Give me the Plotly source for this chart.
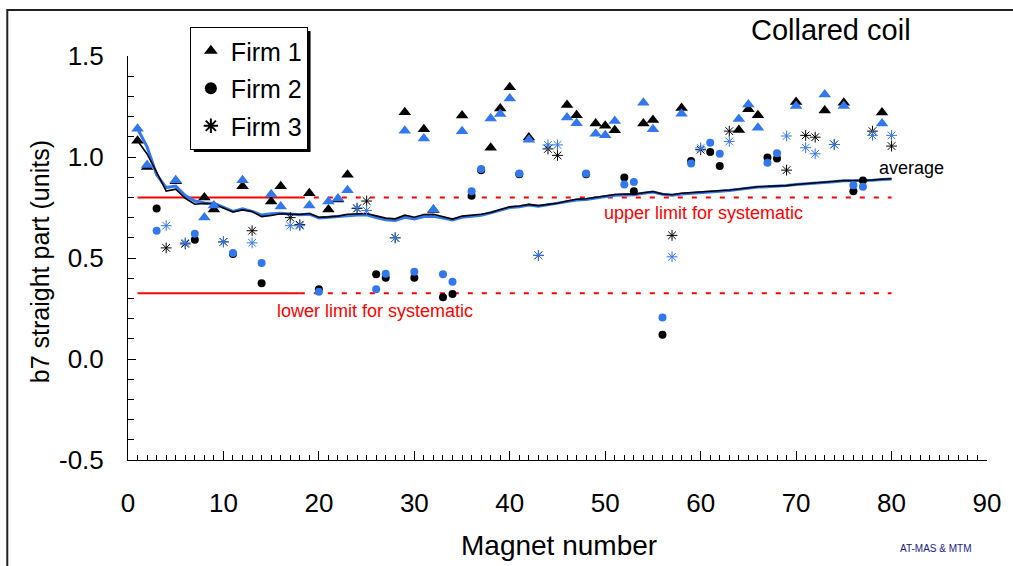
import plotly.graph_objects as go
import numpy as np

# ---------------- data ----------------
magnet = list(range(1, 81))
firm = [1, 1, 2, 3, 1, 3, 2, 1, 1, 3,
        2, 1, 3, 2, 1, 1, 3, 3, 1, 2,
        1, 1, 1, 3, 3, 2, 2, 3, 1, 2,
        1, 1, 2, 2, 1, 2, 2, 1, 1, 1,
        2, 1, 3, 3, 3, 1, 1, 2, 1, 1,
        1, 2, 2, 1, 1, 2, 3, 1, 2, 3,
        2, 2, 3, 1, 1, 1, 2, 2, 3, 1,
        3, 3, 1, 3, 1, 2, 2, 3, 1, 3]
b7_black = [1.08, 0.95, 0.745, 0.55, 0.88, 0.57, 0.59, 0.80, 0.74, 0.58,
            0.52, 0.855, 0.635, 0.375, 0.78, 0.855, 0.70, 0.665, 0.82, 0.345,
            0.74, 0.79, 0.912, 0.745, 0.782, 0.42, 0.402, 0.60, 1.222, 0.402,
            1.137, 0.738, 0.306, 0.322, 1.205, 0.808, 0.935, 1.046, 1.24, 1.345,
            0.915, 1.097, 0.513, 1.04, 1.008, 1.257, 1.207, 0.915, 1.166, 1.155,
            1.133, 0.898, 0.83, 1.166, 1.183, 0.12, 0.612, 1.242, 0.98, 1.036,
            1.025, 0.955, 1.128, 1.134, 1.236, 1.207, 0.998, 0.993, 0.935, 1.272,
            1.107, 1.098, 1.23, 1.062, 1.268, 0.831, 0.884, 1.128, 1.22, 1.054]
b7_blue = [1.14, 0.96, 0.635, 0.66, 0.885, 0.575, 0.62, 0.70, 0.76, 0.58,
           0.525, 0.885, 0.575, 0.475, 0.815, 0.755, 0.66, 0.66, 0.76, 0.333,
           0.78, 0.795, 0.835, 0.748, 0.735, 0.345, 0.422, 0.60, 1.13, 0.432,
           1.092, 0.74, 0.42, 0.382, 1.128, 0.83, 0.94, 1.19, 1.213, 1.29,
           0.918, 1.086, 0.513, 1.06, 1.06, 1.195, 1.167, 0.918, 1.115, 1.108,
           1.178, 0.864, 0.876, 1.268, 1.137, 0.205, 0.506, 1.214, 0.968, 1.045,
           1.07, 1.016, 1.077, 1.188, 1.26, 1.145, 0.972, 1.018, 1.104, 1.252,
           1.046, 1.016, 1.31, 1.062, 1.252, 0.86, 0.853, 1.107, 1.166, 1.107]
firm_names = ["Firm 1", "Firm 2", "Firm 3"]
upper_limit = 0.80
lower_limit = 0.325
limit_x_solid = [1, 18]
limit_x_dashed = [18, 80]
x_tickvals = [0, 10, 20, 30, 40, 50, 60, 70, 80, 90]
y_tickvals = [-0.5, 0.0, 0.5, 1.0, 1.5]
y_ticktext = ["-0.5", "0.0", "0.5", "1.0", "1.5"]

# running average of all magnets measured so far
avg_black = np.cumsum(b7_black) / np.arange(1, len(b7_black) + 1)
avg_blue = np.cumsum(b7_blue) / np.arange(1, len(b7_blue) + 1)

BLUE = "#3377EE"
RED = "#FF0000"
FONT = "Liberation Sans, Arial, sans-serif"

symbols = {1: "triangle-up", 2: "circle", 3: "asterisk-open"}
sizes = {1: 11, 2: 8, 3: 9}

fig = go.Figure()

# limit lines
for lim in (upper_limit, lower_limit):
    fig.add_trace(go.Scatter(x=limit_x_solid, y=[lim, lim], mode="lines",
                             line=dict(color=RED, width=2), showlegend=False, hoverinfo="skip"))
    fig.add_trace(go.Scatter(x=limit_x_dashed, y=[lim, lim], mode="lines",
                             line=dict(color=RED, width=2, dash="5px,9px"),
                             showlegend=False, hoverinfo="skip"))

# average lines
fig.add_trace(go.Scatter(x=magnet, y=avg_blue, mode="lines",
                         line=dict(color=BLUE, width=3), showlegend=False))
fig.add_trace(go.Scatter(x=magnet, y=avg_black, mode="lines",
                         line=dict(color="black", width=1.6), showlegend=False))

# measurement markers
for f in (1, 2, 3):
    xs = [m for m, ff in zip(magnet, firm) if ff == f]
    yk = [v for v, ff in zip(b7_black, firm) if ff == f]
    fig.add_trace(go.Scatter(
        x=xs, y=yk, mode="markers", name=firm_names[f - 1], legendgroup=f"g{f}",
        marker=dict(symbol=symbols[f], size=sizes[f], color="black",
                    line=dict(color="black", width=1 if f == 3 else 0))))
for f in (1, 2, 3):
    xs = [m for m, ff in zip(magnet, firm) if ff == f]
    yb = [v for v, ff in zip(b7_blue, firm) if ff == f]
    fig.add_trace(go.Scatter(
        x=xs, y=yb, mode="markers", name=firm_names[f - 1] + " ", legendgroup=f"g{f}",
        showlegend=False,
        marker=dict(symbol=symbols[f], size=sizes[f], color=BLUE,
                    line=dict(color=BLUE, width=1 if f == 3 else 0))))

W, H = 1013, 566
L, R, T, B = 128, 24, 56, 106
pw, ph = W - L - R, H - T - B


def px(x):
    return (x - L) / pw


def py(y):
    return (H - B - y) / ph


fig.update_layout(
    width=W, height=H, margin=dict(l=L, r=R, t=T, b=B),
    paper_bgcolor="white", plot_bgcolor="white",
    font=dict(family=FONT, color="black", size=16),
    showlegend=True,
    legend=dict(x=px(190), y=py(27), xanchor="left", yanchor="top",
                bgcolor="white", bordercolor="black", borderwidth=1,
                font=dict(size=25, family=FONT), tracegroupgap=2,
                itemsizing="constant"),
)
fig.update_xaxes(range=[0, 90], tickvals=x_tickvals, ticks="inside", ticklen=9,
                 tickcolor="black", tickwidth=1, showline=True, linecolor="black",
                 linewidth=1, showgrid=False, zeroline=False,
                 tickfont=dict(size=26, family=FONT), ticklabelstandoff=20,
                 minor=dict(dtick=1, tick0=0, ticks="inside", ticklen=5,
                            tickcolor="black", showgrid=False))
fig.update_yaxes(range=[-0.5, 1.5], tickvals=y_tickvals, ticktext=y_ticktext,
                 ticks="inside", ticklen=8, tickcolor="black", tickwidth=1,
                 showline=True, linecolor="black", linewidth=1, showgrid=False,
                 zeroline=False, tickfont=dict(size=26, family=FONT),
                 ticklabelstandoff=18,
                 minor=dict(dtick=0.1, tick0=0, ticks="inside", ticklen=6,
                            tickcolor="black", showgrid=False))

# outer frame (top and left edges visible)
fig.add_shape(type="rect", xref="paper", yref="paper", x0=px(7), y0=py(620),
              x1=px(1060), y1=py(10), line=dict(color="#222222", width=2), layer="below")
# legend shadow (offset down-right behind the legend box)
fig.add_shape(type="rect", xref="paper", yref="paper", x0=px(194), y0=py(152),
              x1=px(311), y1=py(31), fillcolor="black", line=dict(width=0), layer="above")

ann = [
    dict(text="Collared coil", xref="paper", yref="paper", x=px(833), y=py(30),
         font=dict(size=29)),
    dict(text="AT-MAS & MTM", xref="paper", yref="paper", x=px(937), y=py(548),
         font=dict(size=10, color="#1A1A8C")),
    dict(text="b7 straight part (units)", xref="paper", yref="paper", x=px(40), y=py(262),
         textangle=-90, font=dict(size=25)),
    dict(text="Magnet number", xref="paper", yref="paper", x=px(560), y=py(545),
         font=dict(size=28)),
    dict(text="upper limit for systematic", x=60.3, y=0.724, font=dict(size=18, color=RED)),
    dict(text="lower limit for systematic", x=25.9, y=0.239, font=dict(size=18, color=RED)),
    dict(text="average", x=82.1, y=0.947, font=dict(size=18, color="black")),
]
for a in ann:
    fig.add_annotation(showarrow=False, xanchor="center", yanchor="middle", **a)

fig.write_html("out.html")
